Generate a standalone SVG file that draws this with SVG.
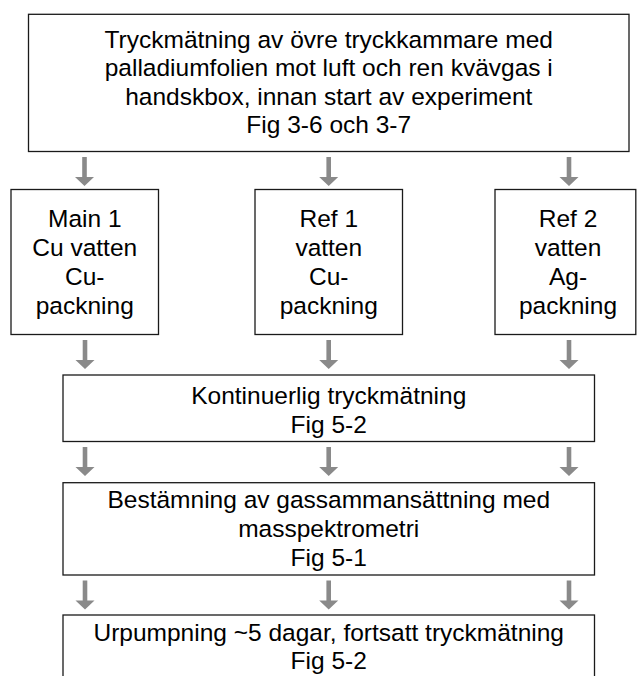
<svg xmlns="http://www.w3.org/2000/svg" xmlns:xlink="http://www.w3.org/1999/xlink" width="637" height="676" viewBox="0 0 637 676">
<style>
.box{fill:#ffffff;stroke:#1a1a1a;stroke-width:1.3}
.t{font-family:"Liberation Sans",Arial,sans-serif;font-size:24.5px;fill:#000000;text-anchor:middle}
.arr{fill:#8a8a8a}
</style>
<defs>
<path id="arrow" class="arr" d="M-2.3,0 H2.3 V20 H9.5 L0,29 L-9.5,20 H-2.3 Z"/>
</defs>
<rect width="637" height="676" fill="#ffffff"/>
<g id="connectors">
<use xlink:href="#arrow" x="84.5" y="157"/>
<use xlink:href="#arrow" x="328.7" y="157"/>
<use xlink:href="#arrow" x="569" y="157"/>
<use xlink:href="#arrow" x="85" y="340"/>
<use xlink:href="#arrow" x="328.7" y="340"/>
<use xlink:href="#arrow" x="569" y="340"/>
<use xlink:href="#arrow" x="85" y="447"/>
<use xlink:href="#arrow" x="328.7" y="447"/>
<use xlink:href="#arrow" x="569" y="447"/>
<use xlink:href="#arrow" x="85" y="580.5"/>
<use xlink:href="#arrow" x="328.7" y="580.5"/>
<use xlink:href="#arrow" x="569" y="580.5"/>
</g>
<g id="node-top">
<rect class="box" x="28.5" y="14.3" width="600.5" height="137.2"/>
<text class="t" x="328.75" y="47.5">Tryckmätning av övre tryckkammare med</text>
<text class="t" x="328.75" y="76">palladiumfolien mot luft och ren kvävgas i</text>
<text class="t" x="328.75" y="104.5">handskbox, innan start av experiment</text>
<text class="t" x="328.75" y="133">Fig 3-6 och 3-7</text>
</g>
<g id="node-main1">
<rect class="box" x="11" y="189.5" width="147.5" height="145"/>
<text class="t" x="84.75" y="227">Main 1</text>
<text class="t" x="84.75" y="256">Cu vatten</text>
<text class="t" x="84.75" y="285">Cu-</text>
<text class="t" x="84.75" y="314">packning</text>
</g>
<g id="node-ref1">
<rect class="box" x="255" y="189.5" width="147.5" height="145"/>
<text class="t" x="328.75" y="227">Ref 1</text>
<text class="t" x="328.75" y="256">vatten</text>
<text class="t" x="328.75" y="285">Cu-</text>
<text class="t" x="328.75" y="314">packning</text>
</g>
<g id="node-ref2">
<rect class="box" x="495" y="189.5" width="140.8" height="145"/>
<text class="t" x="568" y="227">Ref 2</text>
<text class="t" x="568" y="256">vatten</text>
<text class="t" x="568" y="285">Ag-</text>
<text class="t" x="568" y="314">packning</text>
</g>
<g id="node-kontinuerlig">
<rect class="box" x="63" y="375" width="531.5" height="66.5"/>
<text class="t" x="328.75" y="404">Kontinuerlig tryckmätning</text>
<text class="t" x="328.75" y="432.5">Fig 5-2</text>
</g>
<g id="node-bestamning">
<rect class="box" x="63" y="482.7" width="531.5" height="92.3"/>
<text class="t" x="328.75" y="508">Bestämning av gassammansättning med</text>
<text class="t" x="328.75" y="537">masspektrometri</text>
<text class="t" x="328.75" y="566">Fig 5-1</text>
</g>
<g id="node-urpumpning">
<rect class="box" x="63" y="615" width="531.5" height="80"/>
<text class="t" x="328.75" y="641">Urpumpning ~5 dagar, fortsatt tryckmätning</text>
<text class="t" x="328.75" y="669">Fig 5-2</text>
</g>
</svg>
